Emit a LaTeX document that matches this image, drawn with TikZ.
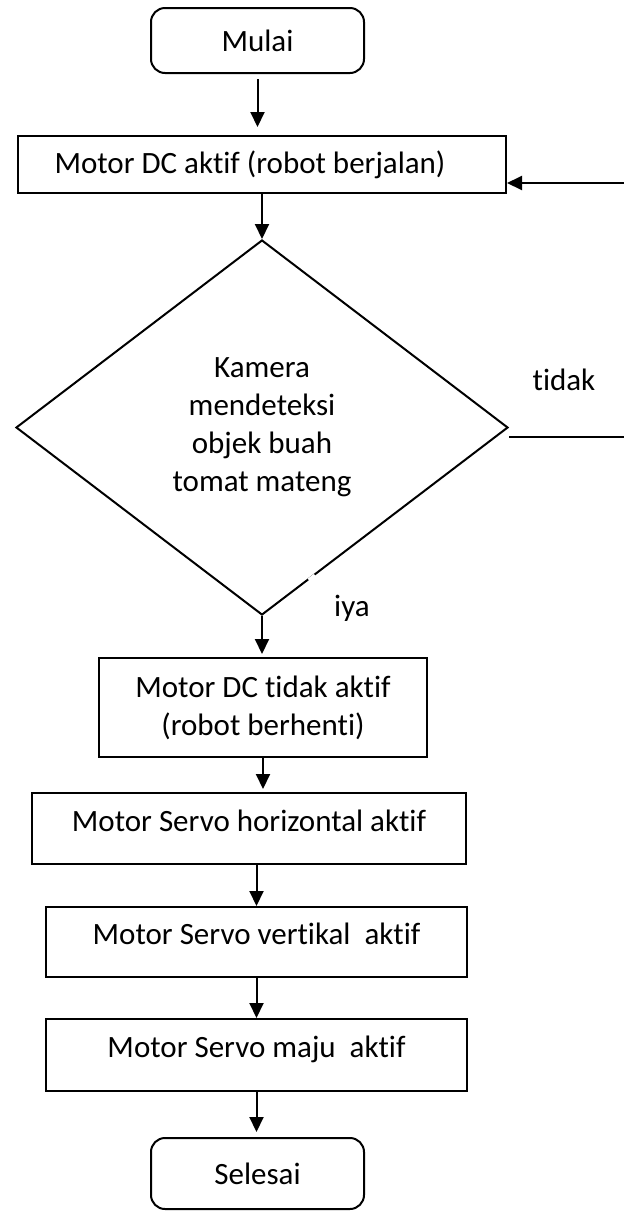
\documentclass[tikz,border=0pt]{standalone}
\usepackage{fontspec}
\setmainfont{Carlito}[Ligatures=NoCommon]
\usetikzlibrary{shapes.geometric,arrows.meta,calc}
\begin{document}
\begin{tikzpicture}[x=1pt,y=-1pt,
  txt/.style={font=\fontsize{31}{38}\selectfont},
  term/.style={txt, draw, line width=2pt, rounded corners=14pt, minimum width=213pt, minimum height=65pt, inner sep=0pt},
  proc/.style={txt, draw, line width=2pt, inner sep=0pt, align=center},
  up/.style={text height=20pt, text depth=15pt},
  arr/.style={line width=2pt, -{Triangle[length=15pt,width=14pt]}},
  ln/.style={line width=2pt}]
\useasboundingbox (0,0) rectangle (624,1211);
\node[term] (mulai) at (257.5,40.5) {Mulai};
\node[proc, minimum width=488pt, minimum height=57pt] (b1) at (262,164.5) {Motor DC aktif (robot berjalan)\hspace{24pt}};
\node[txt, draw, line width=2pt, shape=diamond, minimum width=492pt, minimum height=375pt, inner sep=0pt, align=center] (dec) at (262,427.5) {Kamera\\mendeteksi\\objek buah\\tomat mateng};
\node[proc, minimum width=328pt, minimum height=99pt] (b2) at (263,707.5) {Motor DC tidak aktif\\(robot berhenti)};
\node[proc, up, minimum width=434pt, minimum height=71pt] (b3) at (249,828.5) {Motor Servo horizontal aktif};
\node[proc, up, minimum width=421pt, minimum height=70pt] (b4) at (256.5,942) {Motor Servo vertikal\ \ aktif};
\node[proc, up, minimum width=421pt, minimum height=72pt] (b5) at (256.5,1055) {Motor Servo maju\ \ aktif};
\node[term, minimum height=71pt] (sel) at (257.5,1173.5) {Selesai};
\node[txt] (tidak) at (564,380) {tidak};
\node[txt] (iya) at (352,608) {iya};
\coordinate (r1) at (624,437);
\coordinate (r2) at (624,183);
\draw[arr, shorten <=5pt, shorten >=8pt] (mulai.south) -- (mulai.south |- b1.north);
\draw[arr] (b1.south) -- (b1.south |- dec.north);
\draw[arr, shorten >=3pt] (dec.south) -- (dec.south |- b2.north);
\draw[arr, shorten >=3pt] (b2.south) -- (b2.south |- b3.north);
\draw[arr] (b4.north |- b3.south) -- (b4.north);
\draw[arr] (b4.south) -- (b5.north);
\draw[arr, shorten >=5pt] (b5.south) -- (b5.south |- sel.north);
\draw[ln] (dec.east |- r1) -- (r1);
\draw[arr] (r2) -- (r2 -| b1.east);
\draw[white, line width=4pt] ($(dec.south)!0.19!(dec.east)$) -- ($(dec.south)!0.215!(dec.east)$);
\end{tikzpicture}
\end{document}
